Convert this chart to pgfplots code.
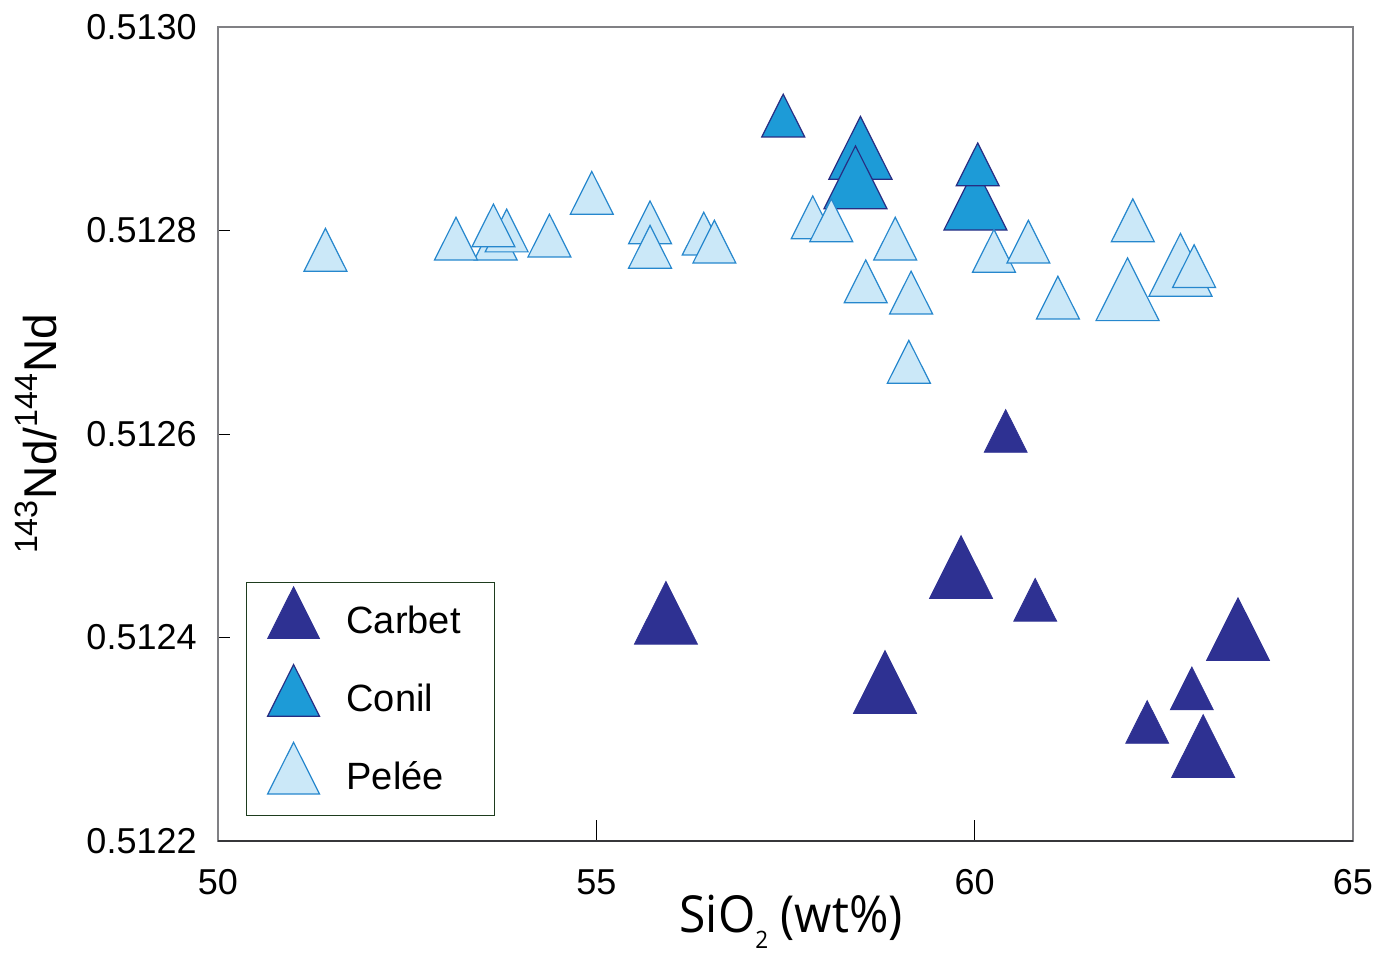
\documentclass[border=0pt]{standalone}
\usepackage{fontspec}
\setmainfont{Liberation Sans}
\newfontfamily\myriad[FakeStretch=0.94]{Open Sans}
\usepackage{pgfplots}
\pgfplotsset{compat=1.18}
\definecolor{carbet}{RGB}{46,49,146}
\definecolor{conil}{RGB}{29,155,215}
\definecolor{conilEdge}{RGB}{40,45,130}
\definecolor{pelee}{RGB}{203,232,248}
\definecolor{peleeEdge}{RGB}{38,135,205}
\definecolor{legendgreen}{RGB}{30,60,30}
\definecolor{framegray}{RGB}{128,128,132}
\definecolor{framedark}{RGB}{55,55,58}
\pgfplotsset{
  carbetS/.style={only marks, mark=triangle*, mark size=12.4pt, mark options={yscale=1.15, fill=carbet, draw=carbet, line width=0.4pt}},
  carbetL/.style={only marks, mark=triangle*, mark size=18.2pt, mark options={yscale=1.15, fill=carbet, draw=carbet, line width=0.4pt}},
  conilS/.style={only marks, mark=triangle*, mark size=12.4pt, mark options={yscale=1.15, fill=conil, draw=conilEdge, line width=0.6pt}},
  conilL/.style={only marks, mark=triangle*, mark size=18.2pt, mark options={yscale=1.15, fill=conil, draw=conilEdge, line width=0.6pt}},
  peleeS/.style={only marks, mark=triangle*, mark size=12.4pt, mark options={yscale=1.15, fill=pelee, draw=peleeEdge, line width=0.6pt}},
  peleeL/.style={only marks, mark=triangle*, mark size=18.2pt, mark options={yscale=1.15, fill=pelee, draw=peleeEdge, line width=0.6pt}},
  lastLegend/.style={legend image code/.code={%
    \draw[mark repeat=2,mark phase=2,##1] plot coordinates {(0cm,0cm) (0.3cm,0cm) (0.6cm,0cm)};
    \path (0.3cm,-17pt);}},
}
\begin{document}
\begin{tikzpicture}
\useasboundingbox (-109pt,-57pt) rectangle (587.5pt,420.5pt);
\begin{axis}[
  at={(0,0)}, anchor=south west,
  scale only axis, width=567.5pt, height=407pt,
  xmin=50, xmax=65, ymin=0.5122, ymax=0.5130,
  xtick={50,55,60,65}, xticklabels={50,55,60,65},
  ytick={0.5122,0.5124,0.5126,0.5128,0.5130},
  yticklabels={0.5122,0.5124,0.5126,0.5128,0.5130},
  tick align=inside, tick pos=left,
  axis line style={framegray, line width=1.2pt},
  xtick style={black, line width=0.5pt, /pgfplots/major tick length=10.5pt},
  ytick style={black, line width=0.5pt, /pgfplots/major tick length=6pt},
  tick label style={font=\fontsize{18}{20}\selectfont, inner sep=0pt},
  yticklabel style={xshift=-10.5pt},
  xticklabel style={yshift=-14pt},
  xlabel={\myriad\fontsize{25.5}{28}\selectfont SiO\raisebox{-8.3pt}{\fontsize{12}{12}\selectfont 2} (wt\%)},
  xlabel style={at={(axis description cs:0.505,-0.1118)}, anchor=base, inner sep=0pt},
  ylabel={\fontsize{23}{26}\selectfont\textsuperscript{143}Nd/\textsuperscript{144}Nd},
  ylabel style={at={(axis description cs:-0.1427,0.5)}, anchor=base, inner sep=0pt},
  legend style={
    at={(axis description cs:0,0)}, anchor=south west, xshift=14pt, yshift=12.5pt,
    draw=legendgreen, line width=0.6pt, fill=white,
    font=\fontsize{19}{22}\selectfont,
    inner xsep=10.5pt, inner ysep=2pt,
    row sep=12pt,
    /tikz/every odd column/.append style={column sep=11.5pt},
  },
  legend cell align=left,
  legend image post style={mark size=15pt},
]
% Carbet
\addplot[carbetS, forget plot] coordinates {
  (60.41,0.512596) (60.80,0.512430) (62.87,0.512343) (62.28,0.512310)
};
\addplot[carbetL] coordinates {
  (59.82,0.512459) (55.92,0.512414) (63.48,0.512398) (58.815,0.512346) (63.02,0.512283)
};
\addlegendentry{Carbet\hspace*{4.5pt}}
% Conil
\addplot[conilL] coordinates {
  (58.49,0.512871) (58.425,0.512842) (60.01,0.512821)
};
\addlegendentry{Conil}
\addplot[conilS, forget plot] coordinates {
  (57.47,0.512906) (60.04,0.512858)
};
% Pelee
\addplot[peleeL, lastLegend] coordinates {
  (62.72,0.512756) (62.02,0.512732)
};
\addlegendentry{Pelée}
\addplot[peleeS, forget plot] coordinates {
  (51.42,0.512774) (53.67,0.512785) (53.815,0.512793) (53.145,0.512785)
  (53.64,0.512798) (54.38,0.512788) (54.94,0.512830) (55.71,0.512801)
  (55.71,0.512777) (56.42,0.512790) (56.56,0.512782) (57.86,0.512806)
  (58.105,0.512803) (58.95,0.512785) (58.56,0.512743) (59.16,0.512732)
  (59.13,0.512664) (60.255,0.512773) (60.71,0.512782) (61.10,0.512727)
  (62.09,0.512803) (62.90,0.512758)
};
\draw[framedark, line width=1.3pt] (rel axis cs:0,0) -- (rel axis cs:1,0);
\end{axis}
\end{tikzpicture}
\end{document}
